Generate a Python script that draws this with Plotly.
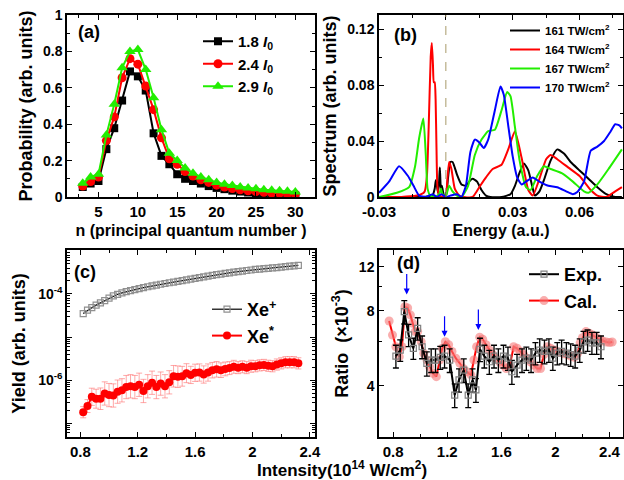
import math
import plotly.graph_objects as go

FONT = "Liberation Sans, Arial, sans-serif"

# ---------------- Panel (a) ----------------
n_levels = [3, 4, 5, 6, 7, 8, 9, 10, 11, 12, 13, 14, 15, 16, 17, 18, 19, 20,
            21, 22, 23, 24, 25, 26, 27, 28, 29, 30]
prob_18 = [0.055, 0.074, 0.088, 0.263, 0.378, 0.53, 0.69, 0.663, 0.585, 0.35,
           0.226, 0.18, 0.125, 0.10, 0.088, 0.074, 0.06, 0.05, 0.043, 0.035,
           0.03, 0.025, 0.02, 0.018, 0.015, 0.012, 0.01, 0.008]
prob_24 = [0.06, 0.085, 0.11, 0.31, 0.44, 0.655, 0.76, 0.73, 0.61, 0.48,
           0.325, 0.21, 0.18, 0.14, 0.115, 0.095, 0.08, 0.065, 0.055, 0.047,
           0.04, 0.034, 0.03, 0.026, 0.022, 0.02, 0.017, 0.015]
prob_29 = [0.075, 0.11, 0.125, 0.34, 0.51, 0.71, 0.80, 0.81, 0.70, 0.545,
           0.37, 0.24, 0.20, 0.16, 0.13, 0.11, 0.095, 0.08, 0.07, 0.063,
           0.055, 0.05, 0.045, 0.04, 0.037, 0.034, 0.031, 0.028]

# ---------------- Panel (b) ----------------
e_161 = [-0.03, -0.02, -0.01, -0.006, -0.005, -0.0045, -0.004, -0.0035, -0.003, -0.0027,
         -0.0025, -0.0022, -0.0018, -0.001, 0.0, 0.001, 0.002, 0.003, 0.004, 0.005,
         0.007, 0.009, 0.011, 0.012, 0.014, 0.016, 0.018, 0.02, 0.025, 0.029,
         0.031, 0.033, 0.035, 0.037, 0.039, 0.040, 0.042, 0.044, 0.047, 0.050,
         0.053, 0.056, 0.060, 0.064, 0.068, 0.072, 0.076, 0.079]
s_161 = [0.0, 0.0, 0.0, 0.001, 0.006, 0.012, 0.008, 0.003, 0.012, 0.021,
         0.014, 0.004, 0.008, 0.002, 0.0, 0.014, 0.025, 0.025, 0.021, 0.016,
         0.009, 0.008, 0.012, 0.013, 0.011, 0.005, 0.001, 0.0, 0.0, 0.002,
         0.008, 0.017, 0.024, 0.019, 0.006, 0.001, 0.004, 0.012, 0.026, 0.034,
         0.031, 0.025, 0.019, 0.013, 0.007, 0.002, 0.0, 0.0]
e_164 = [-0.03, -0.02, -0.013, -0.011, -0.0095, -0.0085, -0.0077, -0.0068, -0.0063, -0.0058,
         -0.0054, -0.005, -0.0046, -0.0042, -0.0038, -0.003, -0.001, 0.0, 0.0008, 0.0015,
         0.0025, 0.004, 0.006, 0.008, 0.012, 0.015, 0.018, 0.021, 0.025, 0.028,
         0.031, 0.034, 0.037, 0.039, 0.042, 0.045, 0.047, 0.050, 0.055, 0.060,
         0.065, 0.068, 0.072, 0.076, 0.079]
s_164 = [0.0, 0.0, 0.001, 0.002, 0.004, 0.015, 0.05, 0.10, 0.11, 0.095,
         0.082, 0.082, 0.07, 0.035, 0.008, 0.001, 0.0, 0.001, 0.015, 0.025,
         0.02, 0.006, 0.001, 0.0, 0.0, 0.007, 0.014, 0.02, 0.023, 0.034,
         0.047, 0.028, 0.005, 0.001, 0.013, 0.027, 0.030, 0.027, 0.021, 0.015,
         0.005, 0.001, 0.0, 0.004, 0.007]
e_167 = [-0.03, -0.022, -0.0165, -0.0138, -0.012, -0.0101, -0.009, -0.0082, -0.007, -0.005,
         -0.003, -0.0022, -0.0015, 0.0, 0.0015, 0.003, 0.005, 0.007, 0.01, 0.013,
         0.016, 0.019, 0.022, 0.025, 0.0275, 0.029, 0.031, 0.033, 0.036, 0.038,
         0.041, 0.044, 0.047, 0.052, 0.057, 0.062, 0.064, 0.068, 0.073, 0.079]
s_167 = [0.0, 0.003, 0.007, 0.022, 0.042, 0.056, 0.03, 0.006, 0.001, 0.0,
         0.002, 0.006, 0.002, 0.001, 0.008, 0.004, 0.001, 0.0, 0.008, 0.03,
         0.041, 0.047, 0.048, 0.062, 0.075, 0.072, 0.05, 0.027, 0.007, 0.005,
         0.015, 0.022, 0.02, 0.017, 0.011, 0.004, 0.003, 0.009, 0.02, 0.034]
e_170 = [-0.03, -0.0255, -0.021, -0.017, -0.0145, -0.012, -0.009, -0.006, -0.004, -0.002,
         0.0, 0.002, 0.005, 0.007, 0.009, 0.011, 0.013, 0.015, 0.017, 0.019,
         0.022, 0.0245, 0.026, 0.028, 0.030, 0.032, 0.034, 0.036, 0.039, 0.042,
         0.046, 0.050, 0.054, 0.057, 0.059, 0.062, 0.065, 0.068, 0.071, 0.074,
         0.076, 0.078, 0.079]
s_170 = [0.003, 0.011, 0.022, 0.015, 0.008, 0.001, 0.0, 0.002, 0.0, 0.002,
         0.0, 0.001, 0.002, 0.0, 0.008, 0.032, 0.041, 0.039, 0.035, 0.041,
         0.062, 0.079, 0.073, 0.051, 0.029, 0.014, 0.009, 0.011, 0.014, 0.011,
         0.008, 0.007, 0.004, 0.002, 0.0035, 0.011, 0.033, 0.036, 0.040, 0.047,
         0.052, 0.051, 0.049]
ZERO_ENERGY = 0.0

# ---------------- Panel (c) ----------------
intensity = [0.82, 0.85, 0.88, 0.91, 0.94, 0.97, 1.00, 1.03, 1.06, 1.09,
             1.12, 1.15, 1.18, 1.21, 1.24, 1.27, 1.30, 1.33, 1.36, 1.39,
             1.42, 1.45, 1.48, 1.51, 1.54, 1.57, 1.60, 1.63, 1.66, 1.69,
             1.72, 1.75, 1.78, 1.81, 1.84, 1.87, 1.90, 1.93, 1.96, 1.99,
             2.02, 2.05, 2.08, 2.11, 2.14, 2.17, 2.20, 2.23, 2.26, 2.29, 2.32]
xe_plus = [3.5e-5, 4.2e-5, 4.8e-5, 5.5e-5, 6.2e-5, 7.0e-5, 8.0e-5, 9.0e-5, 9.8e-5, 1.06e-4,
           1.13e-4, 1.19e-4, 1.26e-4, 1.33e-4, 1.40e-4, 1.47e-4, 1.54e-4, 1.61e-4, 1.68e-4, 1.75e-4,
           1.82e-4, 1.89e-4, 1.96e-4, 2.04e-4, 2.12e-4, 2.20e-4, 2.30e-4, 2.40e-4, 2.50e-4, 2.60e-4,
           2.70e-4, 2.80e-4, 2.90e-4, 3.00e-4, 3.10e-4, 3.20e-4, 3.30e-4, 3.40e-4, 3.50e-4, 3.60e-4,
           3.70e-4, 3.78e-4, 3.86e-4, 3.94e-4, 4.02e-4, 4.10e-4, 4.20e-4, 4.30e-4, 4.40e-4, 4.50e-4, 4.60e-4]
xe_star = [1.8e-7, 2.5e-7, 4.1e-7, 3.7e-7, 3.7e-7, 4.9e-7, 4.5e-7, 4.4e-7, 5.4e-7, 5.8e-7,
           6.9e-7, 7.2e-7, 6.9e-7, 7.8e-7, 5.6e-7, 7.2e-7, 8.7e-7, 6.9e-7, 8.3e-7, 7.2e-7,
           8.9e-7, 1.23e-6, 1.2e-6, 1.23e-6, 1.45e-6, 1.32e-6, 1.48e-6, 1.5e-6, 1.35e-6, 1.5e-6,
           1.7e-6, 1.78e-6, 1.7e-6, 1.82e-6, 1.9e-6, 2.04e-6, 1.95e-6, 2.04e-6, 1.95e-6, 2.1e-6,
           2.1e-6, 2.2e-6, 2.25e-6, 2.15e-6, 2.1e-6, 2.3e-6, 2.45e-6, 2.6e-6, 2.6e-6, 2.6e-6, 2.45e-6]
xe_star_err_dec = [0.13, 0.15, 0.2, 0.22, 0.25, 0.27, 0.27, 0.27, 0.27, 0.27,
                   0.27, 0.27, 0.27, 0.27, 0.27, 0.27, 0.27, 0.27, 0.27, 0.27,
                   0.27, 0.25, 0.25, 0.23, 0.22, 0.2, 0.2, 0.2, 0.2, 0.2,
                   0.18, 0.18, 0.17, 0.16, 0.15, 0.15, 0.14, 0.14, 0.14, 0.14,
                   0.13, 0.13, 0.13, 0.13, 0.13, 0.13, 0.13, 0.13, 0.13, 0.13, 0.13]

# ---------------- Panel (d) ----------------
exp_x = [0.82, 0.852, 0.882, 0.914, 0.949, 0.981, 1.014, 1.049, 1.081, 1.113,
         1.148, 1.18, 1.218, 1.255, 1.287, 1.322, 1.355, 1.387, 1.412, 1.442,
         1.474, 1.511, 1.546, 1.578, 1.616, 1.649, 1.678, 1.716, 1.753, 1.785,
         1.82, 1.852, 1.884, 1.919, 1.952, 1.981, 2.014, 2.046, 2.081, 2.113,
         2.146, 2.18, 2.208, 2.238, 2.27, 2.305, 2.337]
exp_ratio = [5.27, 5.57, 7.93, 6.4, 5.66, 6.8, 5.74, 4.93, 5.08, 5.08,
             5.21, 5.27, 5.08, 3.68, 4.23, 4.63, 3.68, 4.23, 3.86, 5.61,
             5.27, 5.0, 5.27, 5.08, 5.27, 5.17, 4.56, 4.85, 5.08, 5.17,
             5.08, 5.41, 5.57, 5.5, 5.57, 5.17, 5.41, 5.5, 5.41, 5.34,
             5.27, 5.57, 6.01, 6.1, 5.95, 5.95, 5.74]
exp_err = [0.55, 0.55, 0.85, 0.65, 0.55, 0.7, 0.6, 0.55, 0.55, 0.55,
           0.55, 0.55, 0.55, 0.4, 0.45, 0.5, 0.4, 0.45, 0.42, 0.6,
           0.55, 0.55, 0.55, 0.55, 0.55, 0.55, 0.5, 0.5, 0.55, 0.55,
           0.55, 0.55, 0.6, 0.6, 0.6, 0.55, 0.55, 0.6, 0.55, 0.55,
           0.55, 0.6, 0.6, 0.6, 0.6, 0.6, 0.6]
cal_x = [0.77, 0.795, 0.82, 0.845, 0.865, 0.887, 0.907, 0.927, 0.944, 0.962,
         0.981, 1.007, 1.026, 1.05, 1.069, 1.093, 1.119, 1.143, 1.163, 1.186,
         1.21, 1.235, 1.263, 1.293, 1.318, 1.343, 1.375, 1.397, 1.417, 1.44,
         1.462, 1.487, 1.511, 1.537, 1.561, 1.586, 1.611, 1.636, 1.661, 1.691,
         1.716, 1.74, 1.765, 1.79, 1.815, 1.84, 1.865, 1.89, 1.915, 1.94,
         1.964, 1.99, 2.014, 2.04, 2.064, 2.09, 2.113, 2.14, 2.164, 2.183,
         2.2, 2.226, 2.25, 2.276, 2.3, 2.326, 2.35, 2.376, 2.4, 2.42]
cal_ratio = [7.28, 6.4, 5.74, 5.24, 5.74, 8.3, 8.2, 7.7, 7.13, 6.6,
             6.6, 6.01, 5.41, 5.08, 4.78, 4.5, 4.36, 5.08, 5.66, 6.01,
             5.85, 5.5, 5.17, 4.93, 4.7, 4.56, 4.43, 5.08, 5.74, 6.27,
             6.15, 5.85, 5.57, 5.34, 5.17, 5.0, 4.85, 4.7, 4.77, 5.74,
             5.66, 5.5, 5.34, 5.17, 5.0, 4.85, 4.7, 4.7, 5.34, 5.74,
             5.66, 5.57, 5.5, 5.45, 5.38, 5.34, 5.27, 5.21, 5.41, 5.95,
             6.24, 6.6, 6.5, 6.4, 6.27, 6.15, 6.06, 6.0, 5.97, 6.0]
arrow_x = [0.90, 1.18, 1.43]
arrow_y = [9.3, 6.3, 6.7]

# ================= Figure =================
fig = go.Figure()

# (a)
for name, vals, color, sym, size in [
        ("1.8 <i>I</i><sub>0</sub>", prob_18, "black", "square", 8),
        ("2.4 <i>I</i><sub>0</sub>", prob_24, "red", "circle", 9),
        ("2.9 <i>I</i><sub>0</sub>", prob_29, "#22ee00", "triangle-up", 10)]:
    fig.add_trace(go.Scatter(x=n_levels, y=vals, mode="lines+markers", name=name,
                             line=dict(color=color, width=2),
                             marker=dict(symbol=sym, size=size, color=color),
                             xaxis="x", yaxis="y", legend="legend"))

# (b)
for name, ex, sy, color in [("161 TW/cm<sup>2</sup>", e_161, s_161, "black"),
                            ("164 TW/cm<sup>2</sup>", e_164, s_164, "red"),
                            ("167 TW/cm<sup>2</sup>", e_167, s_167, "#22ee00"),
                            ("170 TW/cm<sup>2</sup>", e_170, s_170, "blue")]:
    fig.add_trace(go.Scatter(x=ex, y=sy, mode="lines", name=name,
                             line=dict(color=color, width=2, shape="spline", smoothing=0.5),
                             xaxis="x2", yaxis="y2", legend="legend2"))

# (c)
fig.add_trace(go.Scatter(x=intensity, y=xe_plus, mode="lines+markers", name="Xe<sup>+</sup>",
                         line=dict(color="black", width=1.2),
                         marker=dict(symbol="square-open", size=6, color="#909090",
                                     line=dict(width=1.2)),
                         xaxis="x3", yaxis="y3", legend="legend3"))
err_plus = [v * (10 ** d - 1) for v, d in zip(xe_star, xe_star_err_dec)]
err_minus = [v * (1 - 10 ** (-d)) for v, d in zip(xe_star, xe_star_err_dec)]
fig.add_trace(go.Scatter(x=intensity, y=xe_star, mode="lines+markers", name="Xe<sup>*</sup>",
                         line=dict(color="red", width=2),
                         marker=dict(symbol="circle", size=8, color="red"),
                         error_y=dict(type="data", array=err_plus, arrayminus=err_minus,
                                      color="rgba(255,110,110,0.6)", thickness=1, width=3),
                         xaxis="x3", yaxis="y3", legend="legend3"))

# (d)
fig.add_trace(go.Scatter(x=cal_x, y=cal_ratio, mode="lines+markers", name="Cal.",
                         line=dict(color="red", width=2),
                         marker=dict(symbol="circle", size=9, color="rgba(245,120,120,0.6)"),
                         xaxis="x4", yaxis="y4", legend="legend4", legendrank=2))
fig.add_trace(go.Scatter(x=exp_x, y=exp_ratio, mode="lines+markers", name="Exp.",
                         line=dict(color="black", width=2),
                         marker=dict(symbol="square-open", size=6, color="#808080",
                                     line=dict(width=1.2)),
                         error_y=dict(type="data", array=exp_err, color="black",
                                      thickness=1.3, width=3),
                         xaxis="x4", yaxis="y4", legend="legend4", legendrank=1))


def axis(dom, anchor, **kw):
    d = dict(domain=dom, anchor=anchor, automargin=False, showline=True, linecolor="black",
             linewidth=1.5, mirror="allticks", ticks="inside", ticklen=5, tickwidth=1.2,
             tickcolor="black", showgrid=False, zeroline=False,
             tickfont=dict(size=15, family=FONT, weight="bold"))
    d.update(kw)
    return d


XA = [67 / 624, 315 / 624]
XB = [379 / 624, 623 / 624]
YT = [1 - 197 / 480, 1 - 15 / 480]
YB = [1 - 437 / 480, 1 - 250 / 480]
title_font = dict(size=18, family=FONT, weight="bold")
minor_in = dict(ticks="inside", ticklen=3, tickcolor="black", tickwidth=1)

fig.update_layout(
    width=624, height=480, margin=dict(l=0, r=0, t=0, b=0, autoexpand=False),
    paper_bgcolor="white", plot_bgcolor="white",
    font=dict(family=FONT, size=14, color="black", weight="bold"),
    xaxis=axis(XA, "y", range=[1.0, 32.5], tickvals=[5, 10, 15, 20, 25, 30],
               minor=dict(minor_in, dtick=2.5, tick0=0),
               title=dict(text="n (principal quantum number )", font=dict(size=16, family=FONT, weight="bold"), standoff=6)),
    yaxis=axis(YT, "x", range=[0, 1.0], tickvals=[0, 0.2, 0.4, 0.6, 0.8, 1.0],
               ticktext=["0", "0.2", "0.4", "0.6", "0.8", "1"],
               tickfont=dict(size=14, family=FONT, weight="bold"),
               minor=dict(minor_in, dtick=0.1, tick0=0),
               title=dict(text="Probability (arb. units)", font=title_font, standoff=6)),
    xaxis2=axis(XB, "y2", range=[-0.03, 0.0795], tickvals=[-0.03, 0, 0.03, 0.06],
                ticktext=["-0.03", "0", "0.03", "0.06"],
                minor=dict(minor_in, dtick=0.015, tick0=0),
                title=dict(text="Energy (a.u.)", font=dict(size=16, family=FONT, weight="bold"), standoff=6)),
    yaxis2=axis(YT, "x2", range=[0, 0.13], tickvals=[0, 0.04, 0.08, 0.12],
                ticktext=["0", "0.04", "0.08", "0.12"],
                tickfont=dict(size=14, family=FONT, weight="bold"),
                minor=dict(minor_in, dtick=0.02, tick0=0),
                title=dict(text="Spectrum (arb. units)", font=title_font, standoff=6)),
    xaxis3=axis(XA, "y3", range=[0.707, 2.436], tickvals=[0.8, 1.2, 1.6, 2.0, 2.4],
                ticktext=["0.8", "1.2", "1.6", "2", "2.4"],
                minor=dict(minor_in, dtick=0.2, tick0=0)),
    yaxis3=axis(YB, "x3", type="log", range=[-7.32, -2.98],
                tickvals=[1e-7, 1e-6, 1e-5, 1e-4, 1e-3],
                ticktext=["", "10<sup>-6</sup>", "", "10<sup>-4</sup>", ""],
                tickfont=dict(size=14, family=FONT, weight="bold"),
                minor=dict(minor_in, tickvals=[k * 10.0 ** e for e in range(-8, -2) for k in range(2, 10)]),
                title=dict(text="Yield (arb. units)", font=title_font, standoff=8)),
    xaxis4=axis(XB, "y4", range=[0.695, 2.50], tickvals=[0.8, 1.2, 1.6, 2.0, 2.4],
                ticktext=["0.8", "1.2", "1.6", "2", "2.4"],
                minor=dict(minor_in, dtick=0.2, tick0=0)),
    yaxis4=axis(YB, "x4", type="log", range=[0.398, 1.146], tickvals=[4, 8, 12],
                ticktext=["4", "8", "12"],
                tickfont=dict(size=14, family=FONT, weight="bold"),
                minor=dict(minor_in, tickvals=[6, 10]),
                title=dict(text="Ratio  (×10<sup>-3</sup>)", font=title_font, standoff=6)),
    legend=dict(x=198 / 624, y=1 - 25 / 480, xanchor="left", yanchor="top",
                bgcolor="rgba(0,0,0,0)", font=dict(size=15, family=FONT, weight="bold"),
                tracegroupgap=0),
    legend2=dict(x=505 / 624, y=1 - 16 / 480, xanchor="left", yanchor="top",
                 bgcolor="rgba(0,0,0,0)", font=dict(size=11.5, family=FONT, weight="bold"),
                 tracegroupgap=0),
    legend3=dict(x=207 / 624, y=1 - 291 / 480, xanchor="left", yanchor="top",
                 bgcolor="rgba(0,0,0,0)", font=dict(size=18, family=FONT, weight="bold"),
                 tracegroupgap=0),
    legend4=dict(x=524 / 624, y=1 - 256 / 480, xanchor="left", yanchor="top",
                 bgcolor="rgba(0,0,0,0)", font=dict(size=18, family=FONT, weight="bold"),
                 tracegroupgap=0),
)

# dashed zero line in (b)
fig.add_shape(type="line", x0=ZERO_ENERGY, x1=ZERO_ENERGY, y0=0, y1=1,
              xref="x2", yref="y2 domain", line=dict(color="#a89a6a", width=1, dash="dash"))

# arrows in (d)
for ax_, ay_ in zip(arrow_x, arrow_y):
    fig.add_annotation(x=ax_, y=math.log10(ay_), xref="x4", yref="y4",
                       ax=0, ay=-22, showarrow=True, arrowhead=2, arrowsize=1,
                       arrowwidth=1.2, arrowcolor="blue", text="")

# panel labels
for lab, px, py in [("(a)", 89, 32), ("(b)", 405, 35), ("(c)", 85, 272), ("(d)", 408, 263)]:
    fig.add_annotation(text=lab, x=px / 624, y=1 - py / 480, xref="paper", yref="paper",
                       showarrow=False, font=dict(size=18, family=FONT, weight="bold"),
                       xanchor="center", yanchor="middle")

# shared intensity axis title
fig.add_annotation(text="Intensity(10<sup>14</sup> W/cm<sup>2</sup>)", x=342 / 624, y=1 - 469 / 480,
                   xref="paper", yref="paper", showarrow=False,
                   font=dict(size=17, family=FONT, weight="bold"),
                   xanchor="center", yanchor="middle")

fig.write_html("out.html", config={"displayModeBar": False},
               post_script="document.body.style.margin='0';document.body.style.padding='0';"
                           "document.body.style.overflow='hidden';")
